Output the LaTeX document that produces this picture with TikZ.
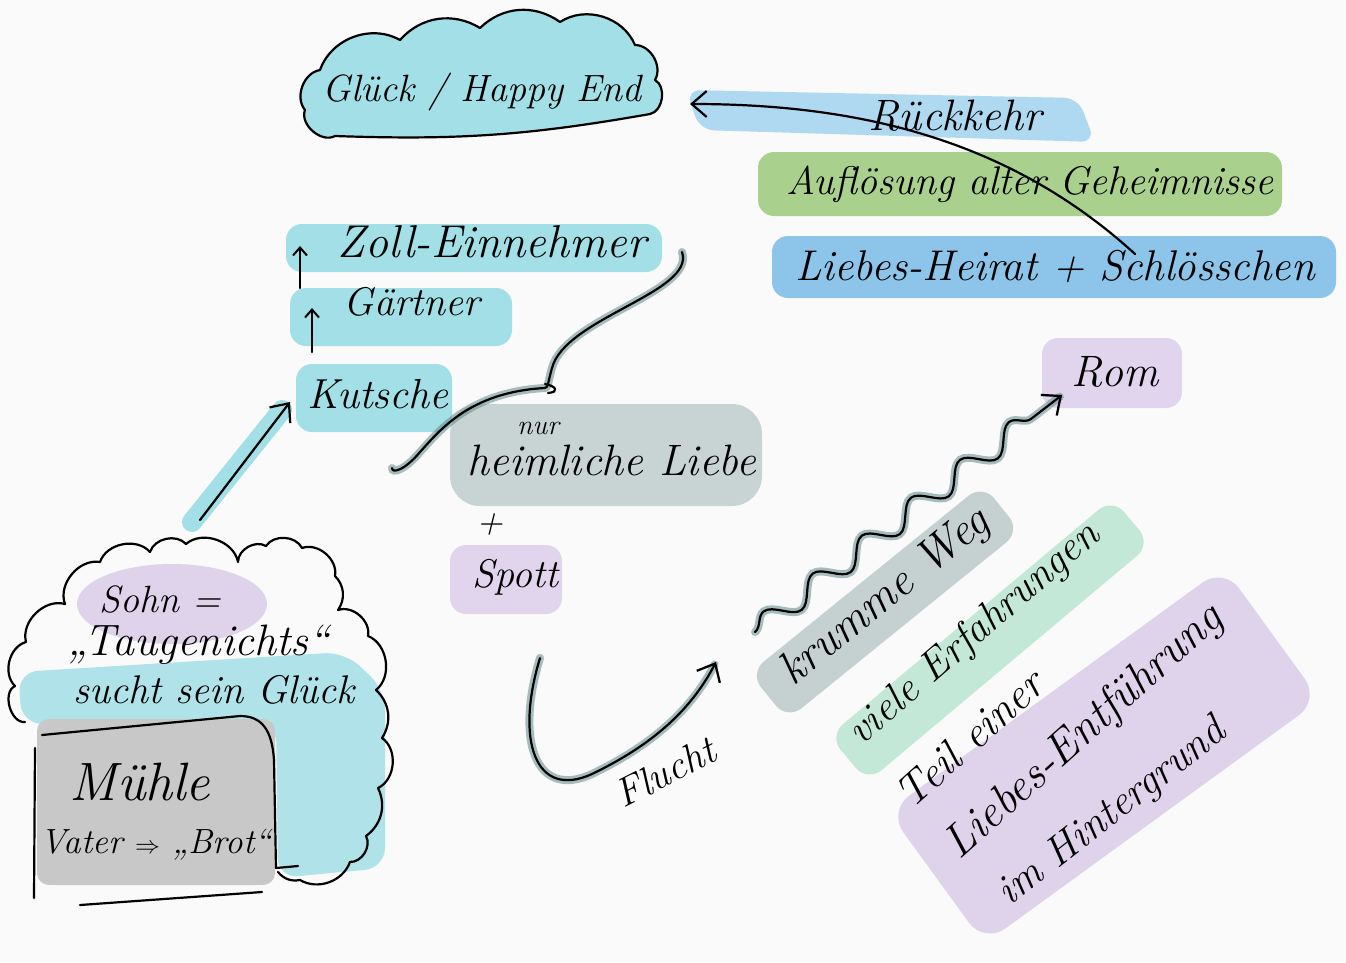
\documentclass[tikz,border=0pt]{standalone}
\usetikzlibrary{decorations.pathmorphing,arrows.meta,calc}
\definecolor{bgc}{RGB}{250,250,250}
\definecolor{cyanhl}{RGB}{125,212,222}
\definecolor{bluehl}{RGB}{95,175,228}
\definecolor{lbluehl}{RGB}{150,205,238}
\definecolor{greenhl}{RGB}{135,192,95}
\definecolor{minthl}{RGB}{178,226,204}
\definecolor{purplehl}{RGB}{214,198,232}
\definecolor{grayhl}{RGB}{180,196,196}
\definecolor{boxgray}{RGB}{200,200,200}
\definecolor{tealsh}{RGB}{95,138,138}
\begin{document}
\begin{tikzpicture}[x=1pt,y=-1pt,
  hand/.style={font=\fontsize{#1}{#1}\selectfont\itshape, inner sep=2pt},
  hand/.default=40,
  hl/.style={fill=#1, fill opacity=0.7, rounded corners=16pt},
  conn/.style={draw=black, line width=2.2pt, line cap=round, line join=round},
  pen/.style={line width=2.2pt, line cap=round, line join=round},
  tip/.style={-{Straight Barb[length=15pt,width=26pt,line width=2.2pt]}},
  smalltip/.style={-{Straight Barb[length=8pt,width=14pt,line width=2pt]}},
  shadow/.style={preaction={draw=tealsh, line width=8pt, draw opacity=0.55, line cap=round}},
  puff/.style={bend left=#1},
  ]
\useasboundingbox (0,0) rectangle (1346,962);
\fill[bgc] (0,0) rectangle (1346,962);

% ---------- highlights ----------
\fill[lbluehl, opacity=0.75, rounded corners=14pt] (686,90) -- (1078,98) -- (1095,142) -- (700,130) -- cycle;
\fill[hl=greenhl] (758,152) rectangle (1282,216);
\fill[hl=bluehl] (772,236) rectangle (1336,298);
\fill[hl=purplehl] (1042,338) rectangle (1182,408);
\fill[hl=cyanhl] (286,224) rectangle (662,272);
\fill[hl=cyanhl] (290,288) rectangle (512,346);
\fill[hl=cyanhl] (296,364) rectangle (452,432);
\draw[cyanhl, opacity=0.7, line width=20pt, line cap=round] (192,522) -- (282,410);
\fill[hl=grayhl, rounded corners=30pt] (450,404) rectangle (762,506);
\fill[hl=purplehl] (450,545) rectangle (562,614);
% bottom-left cloud highlights
\fill[purplehl, opacity=0.75] (172,604) ellipse [x radius=95, y radius=40];
\fill[cyanhl, opacity=0.6, rounded corners=20pt] (18,672) -- (345,652) -- (385,690) -- (385,868) -- (278,878) -- (276,722) -- (22,724) -- cycle;
% rotated highlights
\fill[grayhl, opacity=0.75, rounded corners=18pt, rotate around={39:(885,602)}] ($(885,602)+(-150,-30)$) rectangle ($(885,602)+(150,30)$);
\fill[minthl, opacity=0.75, rounded corners=18pt, rotate around={40:(990,640)}] ($(990,640)+(-185,-30)$) rectangle ($(990,640)+(185,30)$);
\fill[purplehl, opacity=0.75, rounded corners=26pt, rotate around={36:(1106,754)}] ($(1106,754)+(-210,-82)$) rectangle ($(1106,754)+(205,82)$);

% ---------- clouds ----------
\draw[pen, fill=cyanhl, fill opacity=0.7]
  (335,136) to[puff=70] (305,110) to[puff=60] (320,70) to[puff=50] (400,40) to[puff=40] (480,28)
  to[puff=40] (560,22) to[puff=50] (635,45) to[puff=60] (655,80) to[puff=70] (650,114)
  to[puff=6] cycle;
\node[hand=38] (glueck) at (482,92) {Glück / Happy End};
\coordinate (glueckR) at (690,104);

\draw[pen]
  (25,722) to[puff=80] (15,686) to[puff=60] (26,642) to[puff=60] (65,604) to[puff=60] (100,562)
  to[puff=60] (150,552) to[puff=60] (186,544) to[puff=60] (238,562) to[puff=60] (266,546)
  to[puff=60] (302,548) to[puff=60] (335,576) to[puff=40] (338,610) to[puff=60] (368,636)
  to[puff=60] (376,690) to[puff=40] (382,738) to[puff=60] (378,788) to[puff=40] (366,836)
  to[puff=60] (350,862) to[puff=50] (300,880) to[puff=30] (278,872);
\coordinate (wolke) at (200,712);

% mill box
\node[fill=boxgray, rounded corners=12pt, minimum width=238pt, minimum height=166pt] (muehle) at (156,802) {};
\draw[pen] (42,735) -- (240,716) .. controls (262,716) and (272,730) .. (274,760) -- (276,868) -- (298,866);
\draw[pen] (35,748) -- (34,898);
\draw[pen] (80,905) -- (262,892);

% ---------- texts ----------
\node[hand=44] (rueck) at (955,116) {Rückkehr};
\node[hand=40] (aufl) at (1030,184) {Auflösung alter Geheimnisse};
\node[hand=43] (liebe) at (1055,266) {Liebes-Heirat + Schlösschen};
\node[hand=44] (rom) at (1115,372) {Rom};
\node[hand=46] (zoll) at (492,242) {Zoll-Einnehmer};
\node[hand=40] (gaert) at (412,302) {Gärtner};
\node[hand=42] (kut) at (378,394) {Kutsche};
\node[hand=28] (nur) at (538,428) {nur};
\node[hand=44] (heim) at (612,460) {heimliche Liebe};
\node[hand=36] (plus) at (490,525) {+};
\node[hand=40] (spott) at (515,577) {Spott};
\node[hand=38] (sohn) at (160,600) {Sohn =};
\node[hand=44] (tauge) at (198,645) {„Taugenichts“};
\node[hand=40] (sucht) at (214,690) {sucht sein Glück};
\node[hand=54] (muehletxt) at (140,782) {Mühle};
\node[hand=35] (vater) at (156,845) {Vater $\Rightarrow$ „Brot“};
\node[hand=40, rotate=27] (flucht) at (665,772) {Flucht};
\node[hand=46, rotate=39, anchor=base west] (krumm) at (792,688) {krumme Weg};
\node[hand=42, rotate=41, anchor=base west] (erfahr) at (860,748) {viele Erfahrungen};
\node[hand=44, rotate=42, anchor=base west] (teil) at (910,812) {Teil einer};
\node[hand=46, rotate=42, anchor=base west] (entf) at (958,862) {Liebes-Entführung};
\node[hand=42, rotate=38, anchor=base west] (hinter) at (1008,908) {im Hintergrund};

% ---------- connectors ----------
\coordinate (rstart) at (1135,254);
\draw[conn, tip] (rstart) .. controls (1010,140) and (860,104) .. (glueckR);
\coordinate (g1a) at (300,288);
\coordinate (z1) at (300,246);
\coordinate (k1) at (312,352);
\coordinate (g2) at (312,308);
\draw[conn, smalltip] (g1a) -- (z1);
\draw[conn, smalltip] (k1) -- (g2);
\coordinate (sohntop) at (200,520);
\coordinate (kutL) at (290,402);
\draw[conn, tip] (sohntop) -- (kutL);

% brace
\coordinate (b1) at (682,252);
\coordinate (bm) at (545,388);
\coordinate (b2) at (392,468);
\draw[conn, shadow] (b1) .. controls (696,292) and (565,318) .. (552,368) .. controls (548,382) and (548,388) .. (bm)
      .. controls (470,392) and (440,430) .. (420,452) .. controls (405,470) and (392,474) .. (b2);
\draw[conn] (545,384) .. controls (556,386) and (560,392) .. (548,393);

% Flucht arrow
\coordinate (f1) at (540,658);
\coordinate (f2) at (716,662);
\draw[conn, shadow, tip] (f1) .. controls (515,740) and (535,800) .. (592,774) .. controls (650,746) and (690,712) .. (f2);

% wavy road to Rom
\coordinate (w1) at (755,632);
\coordinate (romL) at (1062,395);
\draw[conn, shadow, tip, decorate, decoration={snake, amplitude=11pt, segment length=62pt, post length=26pt}] (w1) -- (romL);
\end{tikzpicture}
\end{document}
